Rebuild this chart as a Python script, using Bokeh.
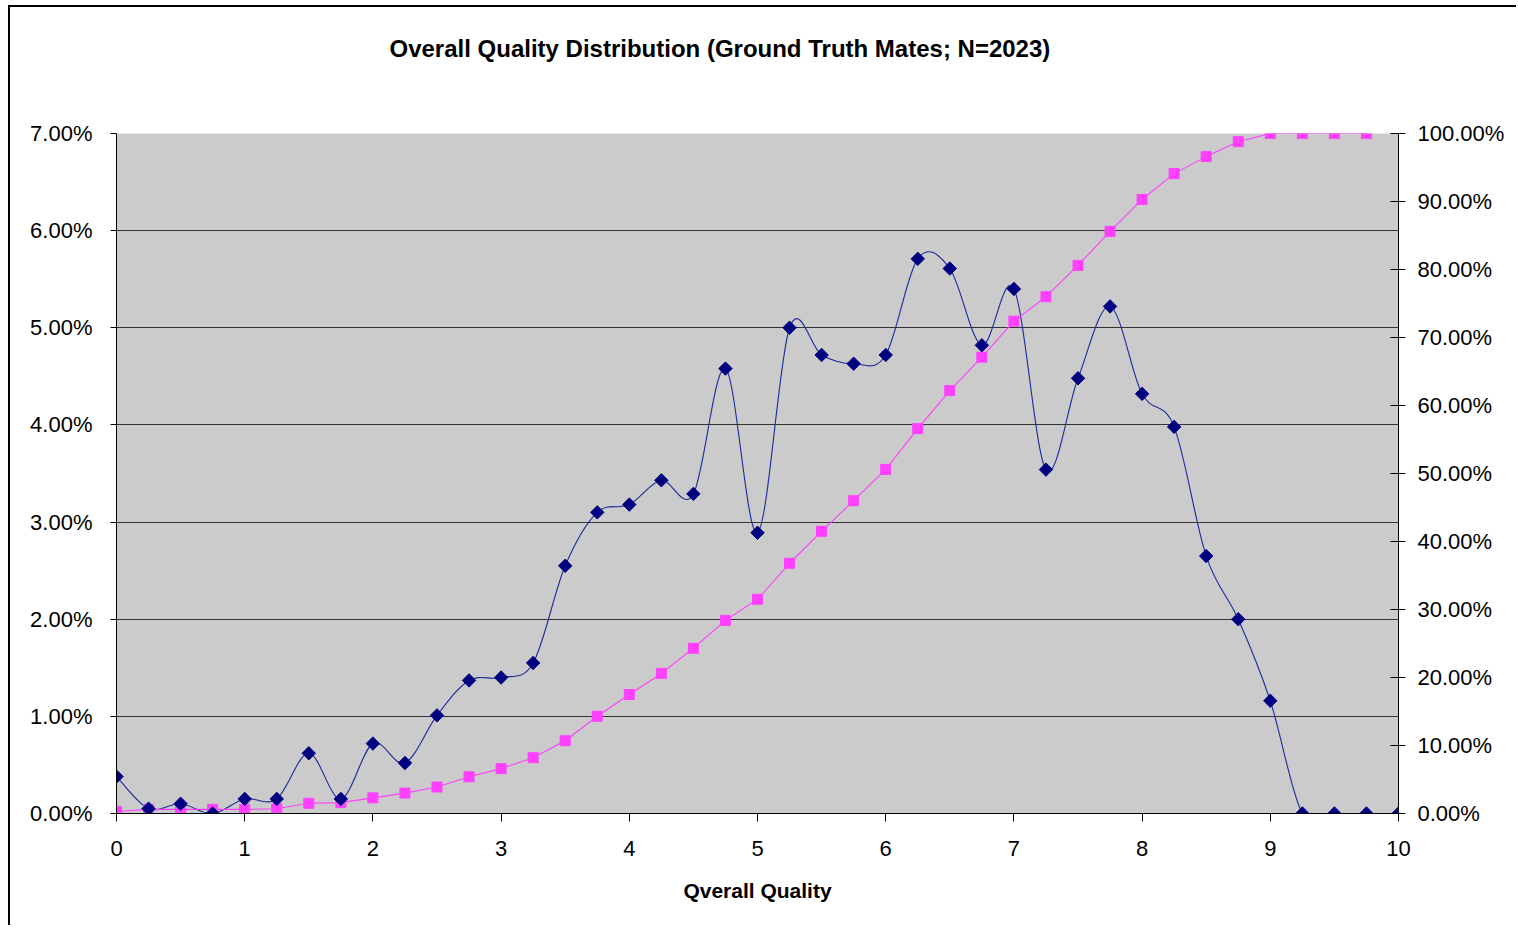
from bokeh.plotting import figure
from bokeh.models import Range1d, LinearAxis, FixedTicker, PrintfTickFormatter, ColumnDataSource
from bokeh.embed import file_html
from bokeh.resources import INLINE
import math

# ---------------- data ----------------
quality = [0, 0.25, 0.5, 0.75, 1, 1.25, 1.5, 1.75, 2, 2.25, 2.5, 2.75, 3, 3.25, 3.5, 3.75,
           4, 4.25, 4.5, 4.75, 5, 5.25, 5.5, 5.75, 6, 6.25, 6.5, 6.75, 7, 7.25, 7.5, 7.75,
           8, 8.25, 8.5, 8.75, 9, 9.25, 9.5, 9.75, 10]
pct_dist = [0.38, 0.05, 0.10, 0.00, 0.15, 0.15, 0.62, 0.15, 0.72, 0.52, 1.01, 1.37, 1.40, 1.55,
            2.55, 3.10, 3.18, 3.43, 3.29, 4.58, 2.89, 5.00, 4.72, 4.63, 4.72, 5.71, 5.61, 4.82,
            5.40, 3.54, 4.48, 5.22, 4.32, 3.98, 2.65, 2.00, 1.16, 0.00, 0.00, 0.00, 0.00]
quality_cum = [0, 0.25, 0.5, 0.75, 1, 1.25, 1.5, 1.75, 2, 2.25, 2.5, 2.75, 3, 3.25, 3.5, 3.75,
               4, 4.25, 4.5, 4.75, 5, 5.25, 5.5, 5.75, 6, 6.25, 6.5, 6.75, 7, 7.25, 7.5, 7.75,
               8, 8.25, 8.5, 8.75, 9, 9.25, 9.5, 9.75]
pct_cum = [0.3, 0.6, 0.6, 0.6, 0.6, 0.7, 1.5, 1.6, 2.3, 3.0, 3.9, 5.4, 6.6, 8.2, 10.7, 14.3,
           17.5, 20.6, 24.3, 28.4, 31.5, 36.8, 41.5, 46.0, 50.6, 56.6, 62.2, 67.1, 72.4, 76.0,
           80.6, 85.6, 90.3, 94.1, 96.6, 98.8, 100, 100, 100, 100]
x_ticks = [0, 1, 2, 3, 4, 5, 6, 7, 8, 9, 10]
left_ticks = [0, 1, 2, 3, 4, 5, 6, 7]
right_ticks = [0, 10, 20, 30, 40, 50, 60, 70, 80, 90, 100]

TITLE = "Overall Quality Distribution (Ground Truth Mates; N=2023)"
XLABEL = "Qverall Quality"

FONT = "Liberation Sans"
NAVY = "#000080"
PINK = "#FF40FF"

# ---------------- figure ----------------
p = figure(width=1508, height=920, output_backend="svg", toolbar_location=None,
           x_range=Range1d(0, 10), y_range=Range1d(0, 7),
           min_border_left=106, min_border_right=120, min_border_top=126, min_border_bottom=114)
p.styles = {"margin-left": "8px", "margin-top": "5px",
            "border-left": "2px solid #000000", "border-top": "2px solid #000000"}
p.background_fill_color = "#CBCBCB"
p.border_fill_color = "#FFFFFF"
p.outline_line_color = None
p.extra_y_ranges = {"cum": Range1d(0, 100)}

# title
p.title.text = TITLE
p.title.align = "left"
p.title.offset = 273
p.title.standoff = 10
p.title.padding = (0, 0, 0, 67)
p.title.text_font = FONT
p.title.text_font_style = "bold"
p.title.text_font_size = "24px"
p.title.text_color = "#000000"

# grid
p.xgrid.grid_line_color = None
p.ygrid.ticker = FixedTicker(ticks=left_ticks)
p.ygrid.grid_line_color = "#333333"
p.ygrid.grid_line_width = 1

# x axis
xa = p.xaxis[0]
xa.ticker = FixedTicker(ticks=x_ticks)
xa.major_tick_in = 0
xa.major_tick_out = 8
xa.minor_tick_line_color = None
xa.axis_line_color = "#000000"
xa.major_tick_line_color = "#000000"
xa.major_label_text_font = FONT
xa.major_label_text_font_size = "22px"
xa.major_label_text_color = "#000000"
xa.major_label_standoff = 19
xa.axis_label = XLABEL
xa.axis_label_text_font = FONT
xa.axis_label_text_font_style = "bold"
xa.axis_label_text_font_size = "21px"
xa.axis_label_text_color = "#000000"
xa.axis_label_standoff = 20

# left axis
ya = p.yaxis[0]
ya.ticker = FixedTicker(ticks=left_ticks)
ya.formatter = PrintfTickFormatter(format="%.2f%%")
ya.major_tick_in = 0
ya.major_tick_out = 6
ya.minor_tick_line_color = None
ya.axis_line_color = "#000000"
ya.major_tick_line_color = "#000000"
ya.major_label_text_font = FONT
ya.major_label_text_font_size = "22px"
ya.major_label_text_color = "#000000"
ya.major_label_standoff = 18

# right axis
ra = LinearAxis(y_range_name="cum", ticker=FixedTicker(ticks=right_ticks),
                formatter=PrintfTickFormatter(format="%.2f%%"))
ra.major_tick_in = 8
ra.major_tick_out = 7
ra.minor_tick_line_color = None
ra.axis_line_color = "#000000"
ra.major_tick_line_color = "#000000"
ra.major_label_text_font = FONT
ra.major_label_text_font_size = "22px"
ra.major_label_text_color = "#000000"
ra.major_label_standoff = 12
p.add_layout(ra, "right")

# ---------------- smoothed distribution line (Bezier segments) ----------------
n = len(quality)
x0s, y0s, x1s, y1s, cx0, cy0, cx1, cy1 = [], [], [], [], [], [], [], []
for i in range(n - 1):
    pm = max(i - 1, 0)
    pp = min(i + 2, n - 1)
    xa_, ya_ = quality[i], pct_dist[i]
    xb_, yb_ = quality[i + 1], pct_dist[i + 1]
    x0s.append(xa_); y0s.append(ya_); x1s.append(xb_); y1s.append(yb_)
    cx0.append(xa_ + (xb_ - quality[pm]) / 6.0)
    cy0.append(ya_ + (yb_ - pct_dist[pm]) / 6.0)
    cx1.append(xb_ - (quality[pp] - xa_) / 6.0)
    cy1.append(yb_ - (pct_dist[pp] - ya_) / 6.0)
bsrc = ColumnDataSource(dict(x0=x0s, y0=y0s, x1=x1s, y1=y1s, cx0=cx0, cy0=cy0, cx1=cx1, cy1=cy1))
p.bezier(x0="x0", y0="y0", x1="x1", y1="y1", cx0="cx0", cy0="cy0", cx1="cx1", cy1="cy1",
         source=bsrc, line_color="#1A2A9A", line_width=1.1)

# cumulative line
p.line(quality_cum, pct_cum, y_range_name="cum", line_color=PINK, line_width=1.1)
p.scatter(quality_cum, pct_cum, y_range_name="cum", marker="square", size=10,
          fill_color=PINK, line_color=PINK)

# distribution markers
p.scatter(quality, pct_dist, marker="square", angle=math.pi / 4, size=9.5,
          fill_color=NAVY, line_color=NAVY)

open("out.html", "w").write(file_html(p, INLINE))
